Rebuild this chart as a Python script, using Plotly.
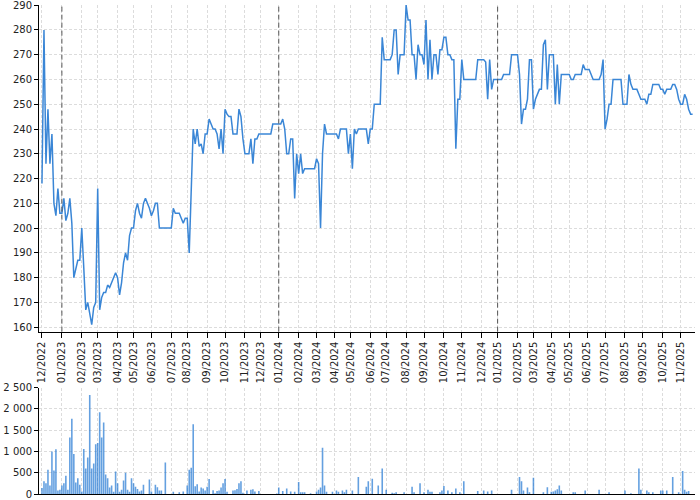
import plotly.graph_objects as go

# ---- data ----
months = ["12/2022", "01/2023", "02/2023", "03/2023", "04/2023", "05/2023", "06/2023",
          "07/2023", "08/2023", "09/2023", "10/2023", "11/2023", "12/2023",
          "01/2024", "02/2024", "03/2024", "04/2024", "05/2024", "06/2024",
          "07/2024", "08/2024", "09/2024", "10/2024", "11/2024", "12/2024",
          "01/2025", "02/2025", "03/2025", "04/2025", "05/2025", "06/2025",
          "07/2025", "08/2025", "09/2025", "10/2025", "11/2025"]

price_by_month = [
    [218, 280, 226, 248, 226, 238, 210, 205, 216, 206],
    [206, 212, 203, 206, 212, 202, 180, 184, 187, 187],
    [200, 184, 167, 170, 165, 161, 168, 170],
    [216, 167, 172, 174, 174, 177, 176, 178, 180, 182],
    [180, 173, 178, 186, 190, 187, 197, 200],
    [200, 207, 210, 206, 204, 210, 212, 210, 208],
    [205, 207, 210, 210, 200, 200, 200, 200, 200, 200],
    [200, 208, 206, 206, 206, 204, 202, 204],
    [204, 190, 220, 240, 234, 240, 233, 234, 230, 238],
    [238, 244, 242, 240, 240, 238, 232, 240, 230],
    [248, 246, 245, 245, 238, 238, 238, 248, 245, 236],
    [230, 230, 230, 236, 226, 236, 236, 238],
    [238, 238, 238, 238, 238, 238, 242, 242, 242],
    [242, 242, 244, 240, 230, 230, 236, 236, 212, 230],
    [222, 230, 222, 224, 224, 224, 224, 224, 224],
    [228, 226, 200, 230, 242, 238, 238, 238, 238],
    [238, 238, 236, 240, 240, 240, 240, 230],
    [238, 224, 240, 238, 240, 240, 240, 240, 240, 234],
    [240, 240, 250, 250, 250, 250, 277, 268],
    [268, 268, 268, 270, 280, 280, 262, 270, 270, 270],
    [290, 284, 284, 270, 270, 260, 274, 270, 270],
    [266, 284, 260, 276, 260, 270, 270, 262, 272, 272],
    [277, 277, 270, 270, 268, 268, 232, 252, 252],
    [268, 260, 260, 260, 260, 260, 260, 260, 268, 268],
    [268, 268, 267, 252, 268, 256, 260, 260],
    [260, 260, 260, 262, 262, 262, 262, 270, 270, 270],
    [270, 262, 242, 248, 248, 252, 268, 268],
    [248, 252, 254, 256, 256, 274, 276, 256, 270],
    [270, 270, 250, 266, 250, 262, 262, 262, 262],
    [262, 260, 260, 262, 262, 262, 262, 266, 264],
    [264, 264, 262, 260, 260, 260, 260, 262, 268],
    [240, 244, 250, 250, 260, 260, 260, 260, 260, 250],
    [250, 250, 262, 258, 256, 256, 256, 254, 252],
    [252, 252, 250, 254, 254, 258, 258, 258, 258, 256],
    [256, 254, 256, 256, 256, 258, 258, 256, 252],
    [250, 250, 254, 252, 248, 246, 246],
]

volume_by_month = [
    [140, 300, 250, 570, 200, 1000, 550, 1050, 80, 100],
    [200, 250, 430, 100, 1330, 1770, 940, 270, 370, 220],
    [60, 1060, 600, 860, 2330, 600, 720, 1170],
    [1200, 1920, 1330, 1680, 460, 370, 150, 200, 50, 530],
    [250, 50, 100, 320, 500, 100, 50, 370],
    [250, 170, 120, 60, 80, 220, 0, 0, 340],
    [60, 0, 220, 160, 80, 80, 0, 740, 0, 0],
    [0, 50, 0, 0, 40, 0, 60, 0],
    [200, 570, 620, 1640, 180, 230, 60, 150, 130, 80],
    [170, 350, 0, 90, 20, 70, 80, 150, 250],
    [350, 50, 0, 0, 80, 90, 120, 250, 300, 30],
    [0, 80, 0, 100, 110, 60, 0, 70],
    [0, 0, 0, 0, 0, 0, 0, 0, 10],
    [150, 0, 70, 0, 130, 0, 60, 0, 50, 0],
    [280, 40, 40, 40, 0, 0, 20, 0, 0],
    [60, 100, 150, 1090, 200, 50, 0, 0, 50],
    [0, 80, 50, 0, 80, 40, 100, 0],
    [0, 80, 0, 0, 400, 0, 0, 0, 170, 300],
    [0, 360, 0, 0, 200, 0, 600, 0],
    [100, 0, 0, 30, 20, 40, 0, 0, 0, 40],
    [0, 0, 0, 170, 40, 0, 0, 250, 0],
    [40, 0, 100, 50, 50, 0, 0, 0, 40, 80],
    [190, 0, 80, 0, 40, 0, 130, 0, 40],
    [0, 300, 0, 0, 0, 0, 0, 0, 70, 0],
    [0, 80, 0, 60, 0, 80, 0, 0],
    [0, 0, 0, 0, 0, 0, 0, 100, 0, 0],
    [0, 400, 300, 80, 0, 150, 40, 0],
    [380, 0, 0, 0, 0, 40, 0, 160, 0],
    [50, 60, 80, 110, 200, 80, 0, 0, 0],
    [0, 0, 40, 40, 0, 0, 0, 0, 80],
    [0, 0, 0, 0, 0, 0, 100, 0, 0],
    [0, 0, 40, 0, 0, 0, 0, 0, 0, 0],
    [80, 0, 0, 20, 0, 0, 0, 600, 100],
    [0, 0, 80, 40, 0, 40, 0, 0, 0, 80],
    [80, 0, 80, 0, 0, 400, 0, 0, 40],
    [0, 540, 100, 50, 70, 0, 0],
]

# ---- build series ----
prices = [v for m in price_by_month for v in m]
volumes = [v for m in volume_by_month for v in m]
x = list(range(len(prices)))

tick_idx = []
start = 0
for m in price_by_month:
    tick_idx.append(start)
    start += len(m)
year_idx = [tick_idx[i] for i, lab in enumerate(months) if lab.startswith("01/")]

FONT = dict(family="DejaVu Sans", size=10, color="#222")
GRID = "#dcdcdc"
LINE_BLUE = "#3a86d6"
xr = [-1.5, len(prices) + 0.2]

fig = go.Figure()
fig.add_trace(go.Scatter(x=x, y=prices, mode="lines",
                         line=dict(color=LINE_BLUE, width=1.5),
                         xaxis="x", yaxis="y", showlegend=False))
fig.add_trace(go.Bar(x=x, y=volumes, marker=dict(color="rgba(40,124,212,0.72)", line=dict(width=0)),
                     xaxis="x2", yaxis="y2", showlegend=False))

shapes = []
for xi in year_idx:
    shapes.append(dict(type="line", xref="x", yref="y domain", x0=xi, x1=xi, y0=0, y1=1,
                       line=dict(color="#555", width=1, dash="5px,3px")))

common_x = dict(range=xr, tickmode="array", tickvals=tick_idx, showgrid=True,
                gridcolor=GRID, griddash="3px,2px", gridwidth=1, zeroline=False,
                showline=True, linecolor="black", linewidth=1, automargin=False)

fig.update_layout(
    width=700, height=500,
    margin=dict(l=39, r=5, t=5, b=6, autoexpand=False),
    paper_bgcolor="white", plot_bgcolor="white",
    font=FONT,
    separators=". ",
    bargap=0.2,
    showlegend=False,
    shapes=shapes,
    xaxis=dict(**common_x, ticktext=months, tickangle=-90, ticks="outside", ticklen=5,
               tickcolor="black", anchor="y", domain=[0, 1], tickfont=FONT),
    yaxis=dict(domain=[0.332, 1], range=[158.2, 290.05], tickmode="array",
               tickvals=list(range(160, 291, 10)), ticklabeloverflow="allow",
               ticks="outside", ticklen=4, tickcolor="black", showline=True,
               linecolor="black", linewidth=1, showgrid=True, gridcolor=GRID,
               griddash="3px,2px", zeroline=False, anchor="x", tickfont=FONT,
               automargin=False),
    xaxis2=dict(**common_x, ticktext=months, showticklabels=False, ticks="",
                anchor="y2", domain=[0, 1]),
    yaxis2=dict(domain=[0, 0.2174], range=[0, 2500], tickvals=[0, 500, 1000, 1500, 2000, 2500],
                separatethousands=True, ticks="outside", ticklen=4, tickcolor="black",
                showline=True, linecolor="black", linewidth=1, showgrid=True,
                gridcolor=GRID, griddash="3px,2px", zeroline=False, anchor="x2",
                tickfont=FONT, automargin=False, ticklabeloverflow="allow"),
)

fig.write_html("out.html", config={"displayModeBar": False},
               post_script="document.body.style.margin='0';document.body.style.padding='0';")
